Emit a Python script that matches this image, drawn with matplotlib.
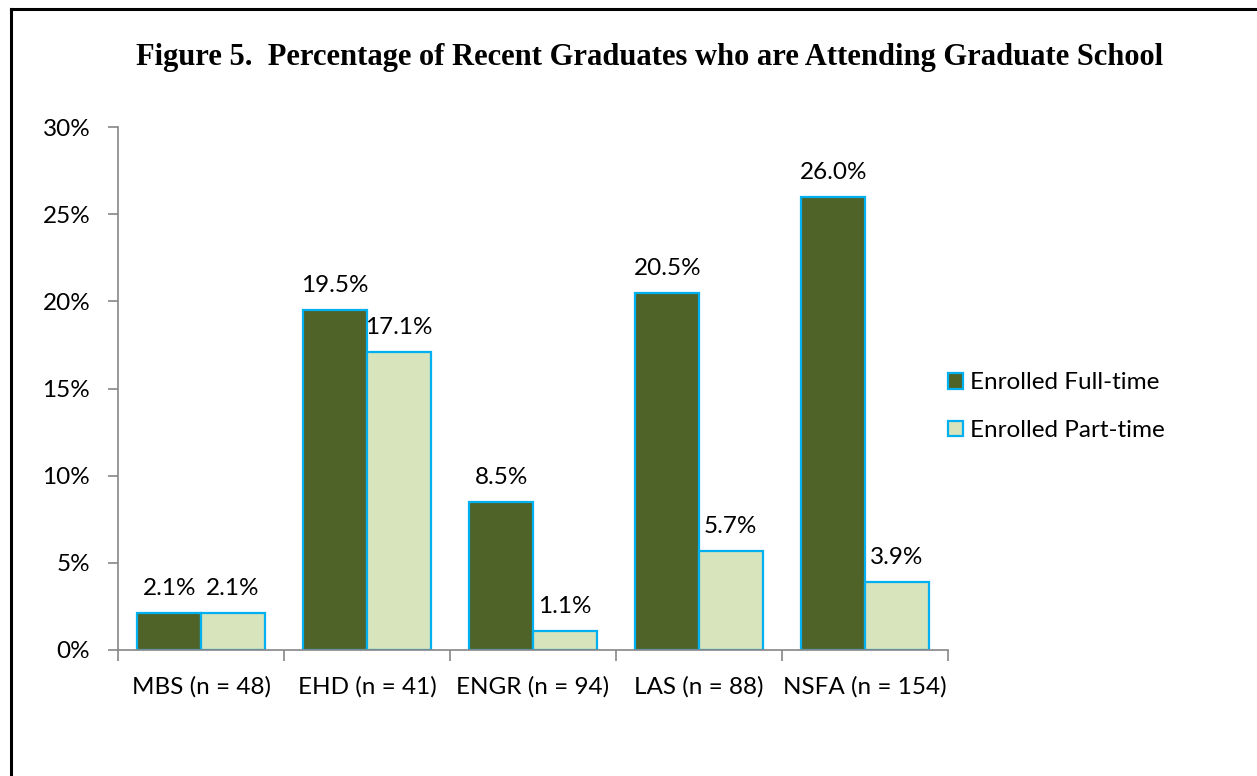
import matplotlib.pyplot as plt
import matplotlib.lines as mlines
import numpy as np

# Datos del gráfico
categorias = ["MBS (n = 48)", "EHD (n = 41)", "ENGR (n = 94)", "LAS (n = 88)", "NSFA (n = 154)"]
tiempo_completo = [2.1, 19.5, 8.5, 20.5, 26.0]
tiempo_parcial = [2.1, 17.1, 1.1, 5.7, 3.9]
series = ["Enrolled Full-time", "Enrolled Part-time"]

plt.rcParams['font.family'] = ['Lato', 'DejaVu Sans']
tam = 17.5

fig = plt.figure(figsize=(12.57, 7.76), dpi=100)
axes = fig.add_axes([118 / 1257, 1 - 650 / 776, 830 / 1257, 523 / 776])

x = np.arange(len(categorias))
ancho = 0.383
b1 = axes.bar(x - ancho / 2, tiempo_completo, ancho, color='#4F6228', edgecolor='#00B0F0',
              linewidth=1.6, label=series[0])
b2 = axes.bar(x + ancho / 2, tiempo_parcial, ancho, color='#D7E4BC', edgecolor='#00B0F0',
              linewidth=1.6, label=series[1])

# Etiquetas de valor
for barras in (b1, b2):
    for b in barras:
        axes.annotate(f"{b.get_height():.1f}%", (b.get_x() + b.get_width() / 2, b.get_height()),
                      xytext=(0, 13), textcoords='offset points', ha='center', va='baseline',
                      fontsize=tam)

axes.set_xlim(-0.5, 4.5)
axes.set_ylim(0, 30)
axes.set_yticks(range(0, 31, 5))
axes.set_yticklabels([f"{v}%" for v in range(0, 31, 5)], fontsize=tam)
axes.set_xticks(x)
axes.set_xticklabels(categorias, fontsize=tam)
axes.tick_params(axis='x', length=0, pad=19)
axes.set_xticks(np.arange(-0.5, 5.0, 1.0), minor=True)
axes.tick_params(axis='x', which='minor', length=8, color='#868686', width=1.2)
axes.tick_params(axis='y', length=7, color='#868686', width=1.2, pad=13)

for lado in ('top', 'right'):
    axes.spines[lado].set_visible(False)
for lado in ('left', 'bottom'):
    axes.spines[lado].set_color('#868686')
    axes.spines[lado].set_linewidth(1.2)

axes.legend(loc='center left', bbox_to_anchor=(0.974, 0.465), frameon=False, fontsize=tam,
            handlelength=0.62, handleheight=0.62, handletextpad=0.29, labelspacing=1.1)

fig.text(650 / 1257, 1 - 57 / 776, "Figure 5.  Percentage of Recent Graduates who are Attending Graduate School",
         ha='center', va='center', fontsize=22, fontweight='bold', family='Liberation Serif')

# Borde del recuadro (solo arriba e izquierda visibles)
fig.add_artist(mlines.Line2D([11 / 1257, 11 / 1257], [0, 1 - 8.5 / 776], color='black', linewidth=2.2))
fig.add_artist(mlines.Line2D([11 / 1257, 1], [1 - 8.5 / 776, 1 - 8.5 / 776], color='black', linewidth=2.2))

fig.savefig("out.png", dpi=100)
